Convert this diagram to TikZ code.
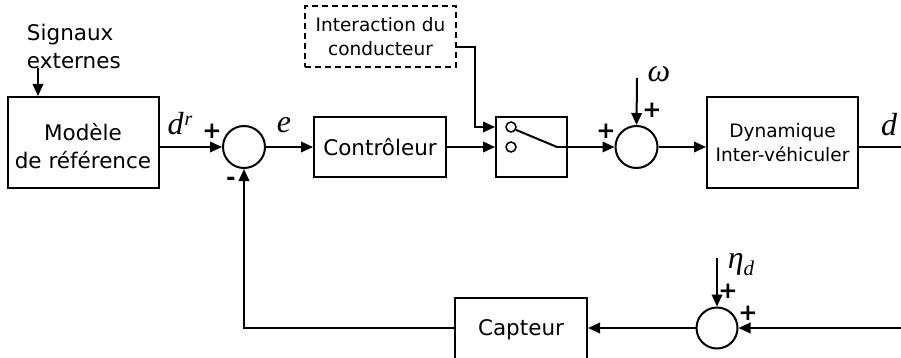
\documentclass[tikz,border=0pt]{standalone}
\usepackage{fontspec}
\setmainfont{DejaVu Sans}
\newfontfamily\tnr{Liberation Serif}
\usetikzlibrary{arrows.meta}
\begin{document}
\begin{tikzpicture}[x=1pt,y=-1pt,
  every path/.style={line width=2pt},
  blk/.style={draw,line width=2pt,rectangle,align=center,inner sep=0pt},
  sumc/.style={draw,line width=2pt,circle,minimum size=42pt,inner sep=0pt},
  contact/.style={draw,line width=1.5pt,circle,minimum size=10pt,inner sep=0pt},
  arr/.style={-{Triangle[length=12pt,width=10.5pt]}},
  bigtxt/.style={font=\fontsize{21.5}{28}\selectfont},
  smalltxt/.style={font=\fontsize{18.5}{24}\selectfont},
  mlab/.style={font=\fontsize{32}{34}\selectfont\tnr\itshape,inner sep=0pt},
  sgn/.style={font=\fontsize{23}{24}\selectfont\bfseries,inner sep=0pt}
  ]
\useasboundingbox (0,0) rectangle (901,358);
% blocks
\node[blk,minimum width=151pt,minimum height=91pt] (model) at (83,142.5) {};
\node[bigtxt,align=center,inner sep=0pt] (modeltxt) at (83,146) {Modèle\\de référence};
\node[bigtxt,align=left,anchor=west,inner sep=0pt] (sig) at (26,46) {Signaux\\externes};
\coordinate (sigend) at (38,68);
\node[sumc] (s1) at (244,147) {};
\node[blk,bigtxt,minimum width=132pt,minimum height=60pt] (ctrl) at (380,147) {Contrôleur};
\node[blk,minimum width=71pt,minimum height=60pt] (sw) at (531.5,147) {};
\node[contact] (c1) at (511,127) {};
\node[contact] (c2) at (511,147) {};
\coordinate (blade) at (557,147);
\node[blk,dash pattern=on 6pt off 4pt,smalltxt,minimum width=151pt,minimum height=61pt] (inter) at (380.5,36.5) {Interaction du\\conducteur};
\coordinate (ibend) at (475,47);
\node[sumc] (s2) at (636.5,147) {};
\coordinate (wtop) at (637,78);
\node[blk,smalltxt,minimum width=151pt,minimum height=91pt] (dyn) at (782.5,142.5) {Dynamique\\Inter-véhiculer};
\coordinate (out1) at (902,147);
\node[sumc,minimum size=41pt] (s3) at (717,328) {};
\coordinate (etop) at (717,258);
\coordinate (in3) at (902,328);
\node[blk,minimum width=132pt,minimum height=62pt] (cap) at (521,329) {};
\node[bigtxt,inner sep=0pt] (captxt) at (521,330) {Capteur};
\coordinate (fbcorner) at (244,328);
% connectors
\draw[arr] (sigend) -- (sigend |- model.north);
\draw[arr] (model.east |- s1.west) -- (s1.west);
\draw[arr] (s1.east) -- (ctrl.west);
\draw[arr] (ctrl.east) -- (sw.west |- c2);
\draw[arr] (inter.east |- ibend) -- (ibend) -- (ibend |- c1) -- (sw.west |- c1);
\draw (c1.-30) -- (blade);
\draw[arr] (blade) -- (s2.west);
\draw[arr] (wtop) -- (s2.north);
\draw[arr] (s2.east) -- (dyn.west |- s2.east);
\draw (dyn.east |- out1) -- (out1);
\draw[arr] (in3) -- (s3.east);
\draw[arr] (etop) -- (s3.north);
\draw[arr] (s3.west) -- (cap.east |- s3.west);
\draw[arr] (cap.west |- s3.west) -- (fbcorner) -- (s1.south);
% labels
\node[mlab] (ldr) at (180,124) {d\kern1pt\raisebox{9pt}{\fontsize{20}{20}\selectfont r}};
\node[mlab] (le) at (284,125) {e};
\node[mlab] (lw) at (659,74) {ω};
\node[mlab] (ld) at (889,125) {d};
\node[mlab] (leta) at (741,265) {η\raisebox{-7pt}{\fontsize{21}{21}\selectfont d}};
\node[sgn] (p1) at (212,131) {+};
\node[sgn] (m1) at (231,181) {-};
\node[sgn] (p2) at (606,131) {+};
\node[sgn] (p3) at (652,110) {+};
\node[sgn] (p4) at (728,291) {+};
\node[sgn] (p5) at (748,313) {+};
\end{tikzpicture}
\end{document}
